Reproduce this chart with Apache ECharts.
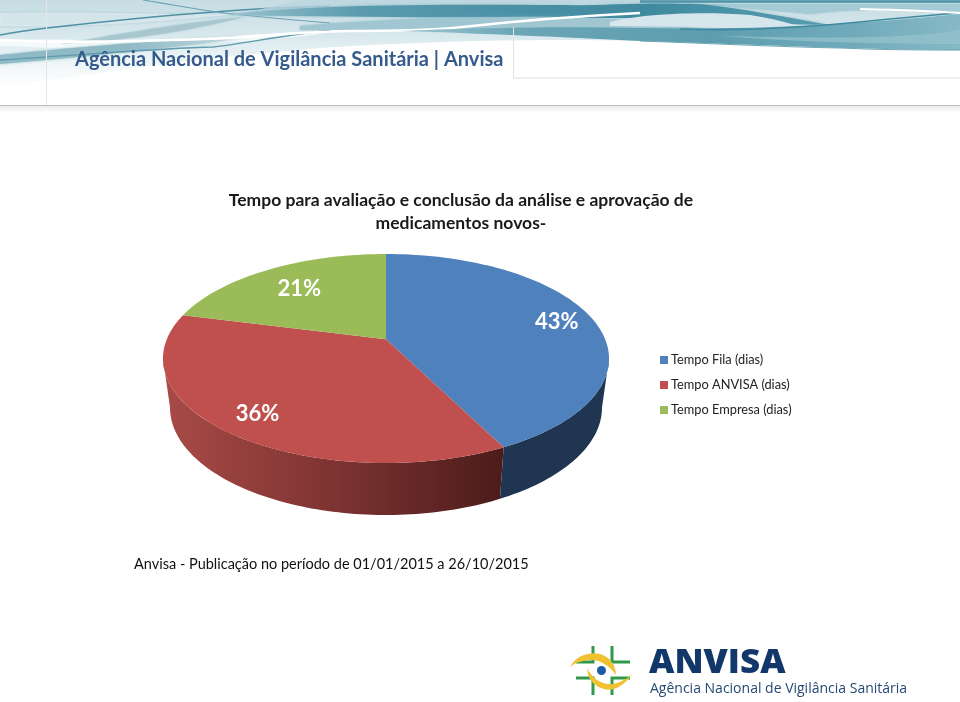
<!DOCTYPE html>
<html><head><meta charset="utf-8">
<style>html,body{margin:0;padding:0;background:#fff}#c{width:960px;height:702px}</style>
<script src="https://cdn.jsdelivr.net/npm/echarts@6/dist/echarts.min.js"></script>
</head><body><div id="c"></div>
<script>
const categories = ['Tempo Fila (dias)', 'Tempo ANVISA (dias)', 'Tempo Empresa (dias)'];
const shares = [42.6, 36.4, 21.0];
const topColors = ['#4f81bd', '#c0504d', '#9bbb59'];
const chartTitle = 'Tempo para avaliação e conclusão da análise e aprovação de\nmedicamentos novos-';
const footerText = 'Anvisa - Publicação no período de 01/01/2015 a 26/10/2015';
const headerText = 'Agência Nacional de Vigilância Sanitária | Anvisa';
const logoName = 'ANVISA';
const logoSub = 'Agência Nacional de Vigilância Sanitária';

// 3D pie geometry (perspective disk)
const P = {cx:386, cy:358.5, rx:223, ry:104.5, bcy:407.5, brx:216, bry:107.5, k:0.83};
const labelReach = [0.835, 0.80, 0.74];
const total = shares.reduce((a,b)=>a+b,0);
const D = Math.PI/180;
function ellipseAngle(fr){ // value fraction -> ellipse parameter (degrees), with perspective
  const th = fr*360;
  if (th>=360) return 360;
  let t = 2*Math.atan(P.k*Math.tan(th/2*D))/D;
  if (t<0) t+=360;
  return t;
}
const topPt = t => [P.cx+P.rx*Math.sin(t*D), P.cy-P.ry*Math.cos(t*D)];
const botPt = t => [P.cx+P.brx*Math.sin(t*D), P.bcy-P.bry*Math.cos(t*D)];
const apexY = P.cy - P.ry*(1-P.k*P.k)/(1+P.k*P.k);

function arc(a,b,fn){const n=Math.max(2,Math.ceil(Math.abs(b-a)/1.5));const o=[];for(let i=0;i<=n;i++)o.push(fn(a+(b-a)*i/n));return o;}

function makeRender(idx){
  return function(params, api){
    const v = api.value(0);
    let start = 0; for(let i=0;i<idx;i++) start+=shares[i];
    const t1 = ellipseAngle(start/total), t2 = ellipseAngle((start+v)/total);
    const tm = ellipseAngle((start+v/2)/total);
    const kids = [];
    const sa = Math.max(t1,90), sb = Math.min(t2,270);
    if (sb>sa){
      const pts = arc(sa,sb,topPt).concat(arc(sb,sa,botPt));
      const fill = idx===0 ? '#1f3552' : {type:'linear',x:0,y:0,x2:1,y2:0,colorStops:[
        {offset:0,color:'#a94b48'},{offset:.2,color:'#97413e'},{offset:.45,color:'#823634'},{offset:.75,color:'#642726'},{offset:1,color:'#4c1c1a'}]};
      kids.push({type:'polygon',shape:{points:pts},style:{fill:fill}});
    }
    const top = [[P.cx,apexY]].concat(arc(t1,t2,topPt));
    kids.push({type:'polygon',shape:{points:top},style:{fill:topColors[idx]}});
    const edge = topPt(tm), r = labelReach[idx];
    kids.push({type:'text',style:{text:Math.round(v/total*100)+'%',x:P.cx+(edge[0]-P.cx)*r,y:apexY+(edge[1]-apexY)*r+1.5,
      fill:'#fff',font:'bold 22px Lato',align:'center',verticalAlign:'middle'}});
    return {type:'group',children:kids};
  };
}

function band(d,fill,opacity,soft){const st={fill:fill,opacity:opacity==null?1:opacity};if(soft){st.shadowBlur=soft;st.shadowColor='rgba(120,175,190,0.7)';}return {type:'path',silent:true,shape:{pathData:d},style:st};}
function stroke(d,color,w,opacity){return {type:'path',silent:true,shape:{pathData:d},style:{fill:'none',stroke:color,lineWidth:w,opacity:opacity==null?1:opacity}};}
const H=(stops)=>({type:'linear',x:0,y:0,x2:1,y2:0,colorStops:stops.map(s=>({offset:s[0],color:s[1]}))});
const V=(stops)=>({type:'linear',x:0,y:0,x2:0,y2:1,colorStops:stops.map(s=>({offset:s[0],color:s[1]}))});

const banner = [
  band('M0,0 H960 V51 C800,47 700,43 640,41 C520,38 420,42 320,48 C200,58 100,72 0,88 Z',V([[0,'#c6dce3'],[.4,'#d8e8ed'],[.7,'#eef5f7'],[1,'#ffffff']])),
  band('M0,13 C80,11 160,15 240,14 C160,22 80,28 0,26 Z','#e8f1f4',.7,3),
  band('M0,40 C60,38 120,42 200,38 C260,34 300,32 340,30 C300,40 180,46 60,48 C40,48 20,46 0,46 Z','#f4f9fa'),
  band('M0,55 C70,48 150,40 250,37 C200,44 110,55 0,64 Z',H([[0,'#8dbac6'],[.5,'#8fb9c5'],[1,'#c4dae0']]),1,3),
  band('M60,44 C110,36 170,24 245,17 C200,28 150,38 85,42 Z','#a9c6cc',.8,2),
  stroke('M0,35 C15,32 30,30 47,28 C100,22 160,16 213,12 C250,9 290,7 330,6','#4f90a4',1.4),
  stroke('M143,0 C180,6 210,12 233,14 C260,17 290,20 330,23','#6aa2b3',1.1),
  stroke('M0,60 C70,56 160,48 213,47 C240,44 280,36 330,30','#5e9aac',1.3),
  band('M700,4 H960 V13 C900,9 860,8 810,14 C770,10 735,7 700,4 Z','#a4cad5',1,2),
  band('M240,14 C320,5 460,4 640,3 C760,3 860,3 960,2 V0 H300 Z','#bcd6de',.8),
  band('M225,15 C300,5 420,4 560,5 C600,6 640,2 700,4 C740,8 790,18 830,25 C760,24 700,18 620,18 C500,18 340,17 225,15 Z',H([[0,'#9cc4cf'],[.22,'#5a9bae'],[.5,'#4a8fa5'],[.7,'#3f8aa0'],[1,'#5a9db0']]),1,3),
  band('M300,26 C380,19 470,16 560,17 C620,18 680,26 720,30 C620,27 400,30 300,30 Z','#a0c6d1',.95,3),
  band('M610,22 C640,14 700,11 750,15 C775,19 790,23 803,28 C740,27 680,27 610,26 Z','#d6e6ec'),
  stroke('M0,40 C60,43 120,42 233,38 C270,35 300,32 350,31 C400,31 430,30 453,28 C490,24 540,18 640,13','#ffffff',2.6),
  band('M400,31 C460,28 560,26 640,28 C740,30 840,26 960,14 V50 C880,50 760,45 640,41 C560,37 470,33 400,31 Z',H([[0,'#a4c9d3'],[.2,'#6ba6b6'],[.55,'#5c9dae'],[.8,'#6faaba'],[1,'#86b9c6']])),
  band('M720,36 C800,38 900,40 960,30 V44 C880,44 800,42 720,36 Z','#9cc6d0',.6,2),
  stroke('M680,29 C740,31 800,28 860,22 C900,18 930,15 960,13','#3f8aa0',1.6),
  stroke('M860,9 C900,10 930,11 960,13','#ffffff',1.8),
  stroke('M640,41 C700,43 780,47 840,48 C880,50 920,50 960,50','#6fa7b7',1),
  stroke('M640,1.5 H960','#4d93a8',2.5)
];
const rules = [
  {type:'line',silent:true,shape:{x1:46.5,y1:0,x2:46.5,y2:105},style:{stroke:'#e4e6e7',lineWidth:1}},
  {type:'line',silent:true,shape:{x1:513.5,y1:27,x2:513.5,y2:78},style:{stroke:'#dfe3e5',lineWidth:1}},
  {type:'line',silent:true,shape:{x1:513,y1:78,x2:960,y2:78},style:{stroke:'#e8e8e8',lineWidth:1.5}},
  {type:'rect',silent:true,shape:{x:0,y:106,width:960,height:7},style:{fill:V([[0,'#ececec'],[1,'#ffffff']])}},
  {type:'line',silent:true,shape:{x1:0,y1:105.5,x2:960,y2:105.5},style:{stroke:'#bdbdbd',lineWidth:1.2}}
];
const G='#2f9a4a';
const logo = [
  stroke('M593,646 V662 H576',G,3),
  stroke('M612,646 V662 H630',G,3),
  stroke('M576,678 H593 V695',G,3),
  stroke('M630,678 H612 V695',G,3),
  band('M570,667 C575,656 590,651 600,654 C610,657 616,665 616,675 C610,666 600,660 592,660 C584,660 576,662 570,667 Z','#f0c232'),
  band('M632,674 C625,686 612,692 604,689 C594,686 588,680 587,668 C592,678 600,683 608,684 C616,685 626,680 632,674 Z','#f0c232'),
  {type:'circle',silent:true,shape:{cx:601.5,cy:670.5,r:4.5},style:{fill:'#1b5ca4'}},
  {type:'text',silent:true,x:649,y:663.5,scaleX:1.06,style:{text:logoName,font:'800 33px "Open Sans"',fill:'#11376b',verticalAlign:'middle',align:'left'}},
  {type:'text',silent:true,style:{text:logoSub,x:650,y:689,font:'14px "Open Sans"',fill:'#264a73',verticalAlign:'middle',align:'left'}}
];
const head = [{type:'text',silent:true,style:{text:headerText,x:75,y:60,font:'bold 20px Lato',fill:'#355b8c',verticalAlign:'middle',align:'left'}}];

const decorSeries = {type:'custom',name:'decor',coordinateSystem:'none',silent:true,z:1,
  renderItem:function(){return {type:'group',children:[].concat(banner,rules,head,logo)};},data:[[0]]};

const chart = echarts.init(document.getElementById('c'),null,{renderer:'canvas'});
chart.setOption({
  animation:false,
  backgroundColor:'#ffffff',
  title:[
    {text:chartTitle,left:456,top:184,textAlign:'center',textStyle:{fontFamily:'Lato',fontWeight:'bold',fontSize:17.5,lineHeight:23,color:'#1a1a1a'}},
    {text:footerText,left:129,top:552,textStyle:{fontFamily:'Lato',fontWeight:'normal',fontSize:14.5,color:'#111'}}
  ],
  legend:{orient:'vertical',left:655,top:347,itemWidth:8,itemHeight:8,itemGap:9,icon:'rect',
    data:categories,textStyle:{fontFamily:'Lato',fontSize:12.8,color:'#222',padding:[0,0,0,-2],lineHeight:16},selectedMode:false},
  series:[decorSeries].concat(categories.map((name,i)=>({
    type:'custom',name:name,coordinateSystem:'none',silent:true,
    itemStyle:{color:topColors[i]},
    renderItem:makeRender(i),data:[[shares[i]]]
  })))
});
</script></body></html>
